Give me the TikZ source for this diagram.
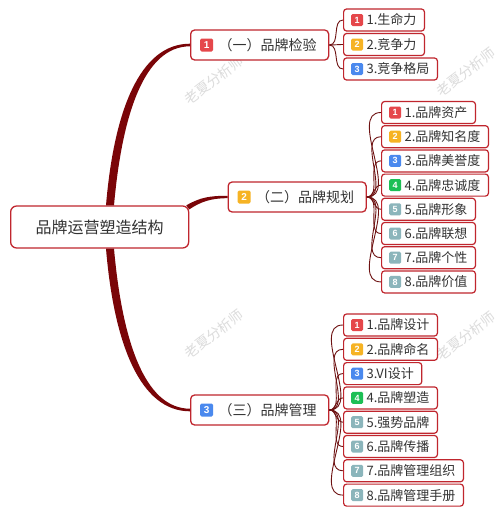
\documentclass[tikz,border=0pt]{standalone}
\usepackage{fontspec}
\setmainfont{Noto Sans CJK SC}
\newfontfamily\badgefont{Liberation Sans}
\usepackage{tikz}
\usetikzlibrary{positioning}
\definecolor{boxred}{HTML}{C0262E}
\definecolor{trunkred}{HTML}{7A0508}
\definecolor{linkred}{HTML}{6E1212}
\definecolor{txtgray}{HTML}{333333}
\definecolor{bred}{HTML}{E5474B}
\definecolor{borange}{HTML}{F6B324}
\definecolor{bblue}{HTML}{4A89EE}
\definecolor{bgreen}{HTML}{1CBF55}
\definecolor{bgray}{HTML}{8BB5BB}
\definecolor{wmgray}{HTML}{DCDCDC}
\tikzset{
  rootbox/.style={draw=boxred, line width=1.3pt, rounded corners=6pt, fill=white, text=txtgray,
    minimum height=42pt, inner xsep=25pt, anchor=west, font=\fontsize{16}{16}\selectfont},
  mainbox/.style={draw=boxred, line width=1.3pt, rounded corners=4pt, fill=white, text=txtgray,
    minimum height=30pt, inner xsep=12pt, anchor=west, font=\fontsize{14}{14}\selectfont},
  leafbox/.style={draw=boxred, line width=1.2pt, rounded corners=3pt, fill=white, text=txtgray,
    minimum height=22pt, inner xsep=8pt, inner ysep=0pt, anchor=west, font=\fontsize{13}{13}\selectfont},
  badge/.style={fill=#1, text=white, rounded corners=1.5pt, minimum size=12pt, inner sep=0pt,
    anchor=west, font=\badgefont\bfseries\fontsize{9}{9}\selectfont},
  bigbadge/.style={badge=#1, minimum size=13pt, font=\badgefont\bfseries\fontsize{10}{10}\selectfont},
  link/.style={draw=linkred, line width=0.9pt},
  trunk/.style={fill=trunkred},
  wmark/.style={text=wmgray, rotate=37, font=\fontsize{14}{14}\selectfont}
}

\begin{document}
\begin{tikzpicture}[x=1pt, y=-1pt]
	\fill[white] (0,0) rectangle (500,517);
	\useasboundingbox (0,0) rectangle (500,517);

	% watermarks
	\node[wmark] (wm1) at (214,80) {老夏分析师};
	\node[wmark] (wm2) at (466,72) {老夏分析师};
	\node[wmark] (wm3) at (214,334) {老夏分析师};
	\node[wmark] (wm4) at (466,336) {老夏分析师};

	% root and main branches
	\node[rootbox] (root) at (10,227) {品牌运营塑造结构};
	\node[mainbox] (m1) at (190,45) {\hspace*{16pt}（一）品牌检验};
	\node[mainbox] (m2) at (227.5,197) {\hspace*{16pt}（二）品牌规划};
	\node[mainbox] (m3) at (190,410) {\hspace*{16pt}（三）品牌管理};

	\fill[trunk] ([xshift=96]root.north west) .. controls +(8,-95) and +(-50,0) .. ([yshift=1.3]m1.west)
		-- ([yshift=-1.3]m1.west) .. controls +(-46,0) and +(8,-90) .. ([xshift=104]root.north west) -- cycle;
	\fill[trunk] ([xshift=96]root.south west) .. controls +(8,95) and +(-50,0) .. ([yshift=-1.3]m3.west)
		-- ([yshift=1.3]m3.west) .. controls +(-46,0) and +(8,90) .. ([xshift=104]root.south west) -- cycle;
	\fill[trunk] ([xshift=-3]root.north east) .. controls +(14,-8) and +(-18,0) .. ([yshift=1.2]m2.west)
		-- ([yshift=-1.2]m2.west) .. controls +(-16,0) and +(12,-8) .. ([yshift=-4]root.north east) -- cycle;

	\node[bigbadge=bred] (bm1) at ([xshift=10]m1.west) {1};
	\node[bigbadge=borange] (bm2) at ([xshift=10]m2.west) {2};
	\node[bigbadge=bblue] (bm3) at ([xshift=10]m3.west) {3};

	% (一)
	\node[leafbox] (c11) at (343,20) {\hspace*{15pt}1.生命力};
	\node[leafbox] (c12) at (343,44.5) {\hspace*{15pt}2.竞争力};
	\node[leafbox] (c13) at (343,69) {\hspace*{15pt}3.竞争格局};

	% (二)
	\node[leafbox] (c21) at (381,112.5) {\hspace*{15pt}1.品牌资产};
	\node[leafbox] (c22) at (381,136.7) {\hspace*{15pt}2.品牌知名度};
	\node[leafbox] (c23) at (381,160.9) {\hspace*{15pt}3.品牌美誉度};
	\node[leafbox] (c24) at (381,185.1) {\hspace*{15pt}4.品牌忠诚度};
	\node[leafbox] (c25) at (381,209.3) {\hspace*{15pt}5.品牌形象};
	\node[leafbox] (c26) at (381,233.5) {\hspace*{15pt}6.品牌联想};
	\node[leafbox] (c27) at (381,257.7) {\hspace*{15pt}7.品牌个性};
	\node[leafbox] (c28) at (381,281.9) {\hspace*{15pt}8.品牌价值};

	% (三)
	\node[leafbox] (c31) at (343,325) {\hspace*{15pt}1.品牌设计};
	\node[leafbox] (c32) at (343,349.3) {\hspace*{15pt}2.品牌命名};
	\node[leafbox] (c33) at (343,373.6) {\hspace*{15pt}3.VI设计};
	\node[leafbox] (c34) at (343,397.9) {\hspace*{15pt}4.品牌塑造};
	\node[leafbox] (c35) at (343,422.2) {\hspace*{15pt}5.强势品牌};
	\node[leafbox] (c36) at (343,446.5) {\hspace*{15pt}6.品牌传播};
	\node[leafbox] (c37) at (343,470.8) {\hspace*{15pt}7.品牌管理组织};
	\node[leafbox] (c38) at (343,495.1) {\hspace*{15pt}8.品牌管理手册};

	\draw[link] (m1.east) to[out=0, in=180] (c11.west);
	\draw[link] (m1.east) to[out=0, in=180] (c12.west);
	\draw[link] (m1.east) to[out=0, in=180] (c13.west);

	\draw[link] (m2.east) to[out=0, in=180] (c21.west);
	\draw[link] (m2.east) to[out=0, in=180] (c22.west);
	\draw[link] (m2.east) to[out=0, in=180] (c23.west);
	\draw[link] (m2.east) to[out=0, in=180] (c24.west);
	\draw[link] (m2.east) to[out=0, in=180] (c25.west);
	\draw[link] (m2.east) to[out=0, in=180] (c26.west);
	\draw[link] (m2.east) to[out=0, in=180] (c27.west);
	\draw[link] (m2.east) to[out=0, in=180] (c28.west);

	\draw[link] (m3.east) to[out=0, in=180] (c31.west);
	\draw[link] (m3.east) to[out=0, in=180] (c32.west);
	\draw[link] (m3.east) to[out=0, in=180] (c33.west);
	\draw[link] (m3.east) to[out=0, in=180] (c34.west);
	\draw[link] (m3.east) to[out=0, in=180] (c35.west);
	\draw[link] (m3.east) to[out=0, in=180] (c36.west);
	\draw[link] (m3.east) to[out=0, in=180] (c37.west);
	\draw[link] (m3.east) to[out=0, in=180] (c38.west);

	\node[badge=bred] (b11) at ([xshift=8]c11.west) {1};
	\node[badge=borange] (b12) at ([xshift=8]c12.west) {2};
	\node[badge=bblue] (b13) at ([xshift=8]c13.west) {3};

	\node[badge=bred] (b21) at ([xshift=8]c21.west) {1};
	\node[badge=borange] (b22) at ([xshift=8]c22.west) {2};
	\node[badge=bblue] (b23) at ([xshift=8]c23.west) {3};
	\node[badge=bgreen] (b24) at ([xshift=8]c24.west) {4};
	\node[badge=bgray] (b25) at ([xshift=8]c25.west) {5};
	\node[badge=bgray] (b26) at ([xshift=8]c26.west) {6};
	\node[badge=bgray] (b27) at ([xshift=8]c27.west) {7};
	\node[badge=bgray] (b28) at ([xshift=8]c28.west) {8};

	\node[badge=bred] (b31) at ([xshift=8]c31.west) {1};
	\node[badge=borange] (b32) at ([xshift=8]c32.west) {2};
	\node[badge=bblue] (b33) at ([xshift=8]c33.west) {3};
	\node[badge=bgreen] (b34) at ([xshift=8]c34.west) {4};
	\node[badge=bgray] (b35) at ([xshift=8]c35.west) {5};
	\node[badge=bgray] (b36) at ([xshift=8]c36.west) {6};
	\node[badge=bgray] (b37) at ([xshift=8]c37.west) {7};
	\node[badge=bgray] (b38) at ([xshift=8]c38.west) {8};
\end{tikzpicture}
\end{document}
